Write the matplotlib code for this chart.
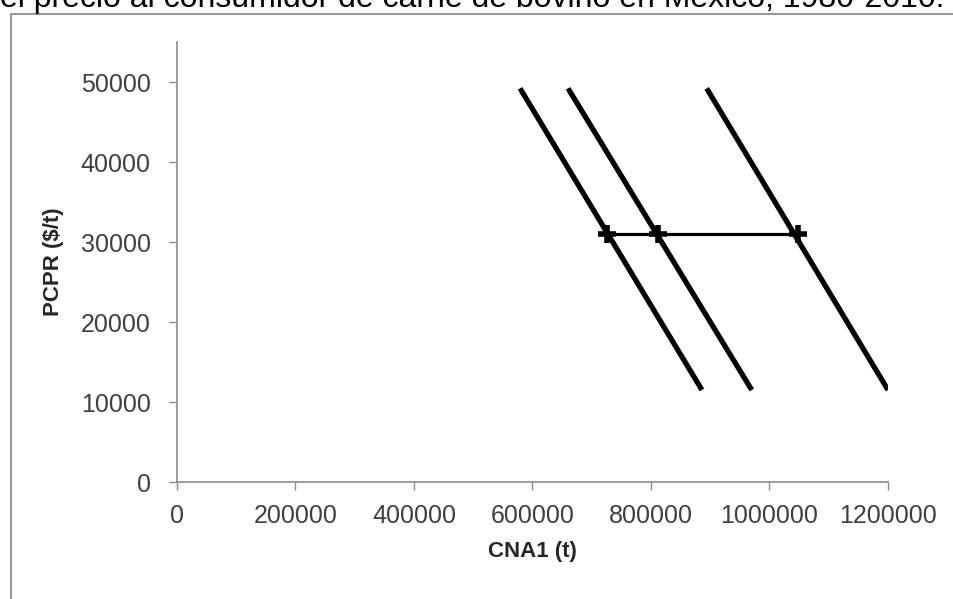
import matplotlib.pyplot as plt
from matplotlib.patches import Rectangle
from matplotlib.ticker import FormatStrFormatter

# Curvas de demanda (extremos superior e inferior)
precios = [49200, 11500]
cna_d1 = [579000, 886000]
cna_d2 = [660000, 970000]
cna_d3 = [894000, 1200000]

# Puntos de equilibrio sobre el mismo precio
precio_eq = [31000, 31000, 31000]
cna_eq = [726000, 812000, 1048000]

titulo = 'el precio al consumidor de carne de bovino en México, 1980-2010.'

plt.rcParams['font.family'] = ['Liberation Sans', 'DejaVu Sans']

fig = plt.figure(figsize=(9.54, 5.99), dpi=100)
fig.patch.set_facecolor('white')

# marco gris del gráfico (el borde de la imagen lo recorta, como en el original)
fig.patches.append(Rectangle((11 / 954, -0.1), 1.1, (599 - 14) / 599 + 0.1,
                             transform=fig.transFigure, fill=False,
                             edgecolor='#8c8c8c', linewidth=1.3))
# título recortado por arriba, igual que en la imagen de referencia
fig.text(0.0, 1 - 7 / 599, titulo, fontsize=23, va='baseline', ha='left', color='black')

ax = fig.add_axes([177 / 954, (599 - 482) / 599, (888 - 177) / 954, 440 / 599])

for xs in (cna_d1, cna_d2, cna_d3):
    ax.plot(xs, precios, color='black', linewidth=3.8, solid_capstyle='butt')
ax.plot(cna_eq, precio_eq, color='black', linewidth=2.3, marker='+',
        markersize=13, markeredgewidth=4)

ax.set_xlim(0, 1200000)
ax.set_ylim(0, 55000)
ax.set_xticks(range(0, 1200001, 200000))
ax.set_yticks(range(0, 50001, 10000))
ax.xaxis.set_major_formatter(FormatStrFormatter('%d'))
ax.yaxis.set_major_formatter(FormatStrFormatter('%d'))
ax.tick_params(axis='both', labelsize=18, labelcolor='#404040', color='#8c8c8c',
               length=6, width=1)
ax.tick_params(axis='x', pad=10)
ax.tick_params(axis='y', pad=13)

for s in ('top', 'right'):
    ax.spines[s].set_visible(False)
for s in ('left', 'bottom'):
    ax.spines[s].set_color('#8c8c8c')
    ax.spines[s].set_linewidth(1.2)

ax.set_xlabel('CNA1 (t)', fontsize=16, fontweight='bold', color='#262626', labelpad=9)
ax.set_ylabel('PCPR (\\$/t)', fontsize=16, fontweight='bold', color='#262626', labelpad=12)

fig.savefig('out.png', dpi=100)
